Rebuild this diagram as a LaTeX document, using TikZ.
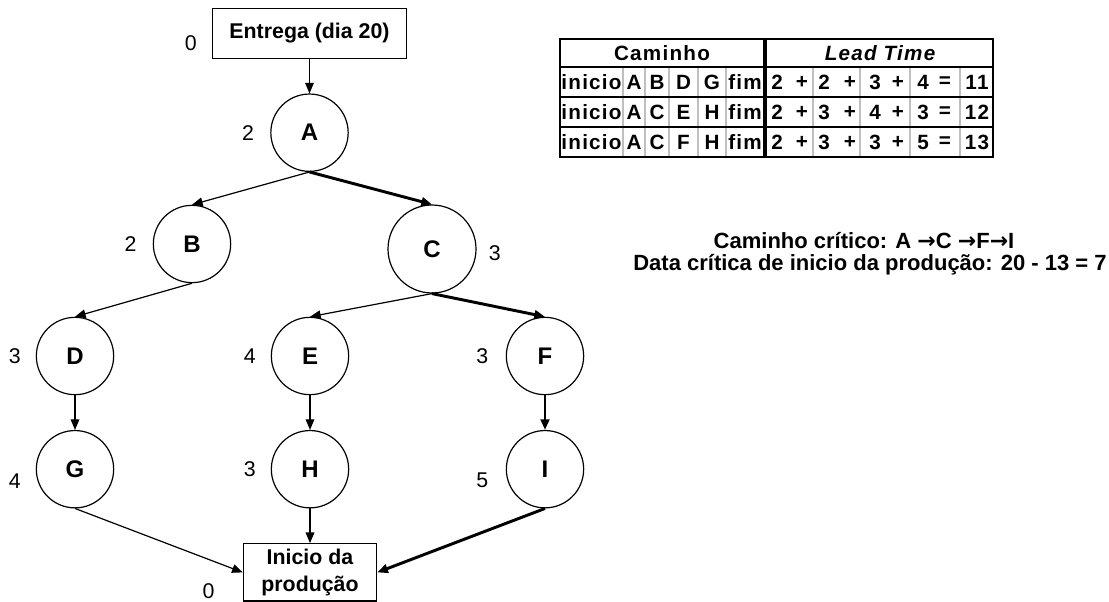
\documentclass[tikz,border=0pt]{standalone}
\usepackage{fontspec}
\setmainfont{Liberation Sans}
\newfontfamily\symfont{DejaVu Sans}
\newfontfamily\tabfont[LetterSpace=6.0]{Liberation Sans}
\usepackage{xcolor}
\usepackage{tikz}
\usetikzlibrary{arrows.meta,positioning}
\definecolor{gradecinza}{HTML}{BFBFBF}
\newcommand{\setinha}{{\symfont\bfseries →}}

\begin{document}
\begin{tikzpicture}[
    x=0.75pt, y=-0.75pt,
    node distance=26pt,
    etapa/.style={circle, draw, line width=0.9pt, minimum size=58pt, inner sep=0pt,
                  font=\fontsize{18}{21}\selectfont\bfseries},
    caixa/.style={rectangle, draw, line width=0.9pt, align=center, inner sep=2pt,
                  font=\fontsize{16}{20}\selectfont\bfseries},
    num/.style={inner sep=0pt, font=\fontsize{16}{19}\selectfont},
    seta/.style={-{Triangle[length=8pt,width=6.5pt]}, line width=0.9pt},
    critica/.style={seta, line width=2.2pt},
    celula/.style={inner sep=0pt, font=\tabfont\fontsize{15.5}{18}\selectfont\bfseries},
    grade/.style={draw=gradecinza, line width=1.2pt},
    nota/.style={inner sep=0pt, anchor=base, font=\fontsize{16.5}{20}\selectfont\bfseries},
]
    \useasboundingbox (0,0) rectangle (1109,602);

    % arvore de etapas
    \node[caixa, minimum width=146pt, minimum height=37pt] (ent) at (309.5,33.5) {Entrega (dia 20)};
    \node[etapa, below=of ent] (A) {A};
    \node[etapa] (B) at (192,244) {B};
    \node[etapa, minimum size=66pt] (C) at (432,249) {C};
    \node[etapa] (D) at (75,356) {D};
    \node[etapa] (E) at (310,356) {E};
    \node[etapa] (F) at (545,356) {F};
    \node[etapa, below=of D] (G) {G};
    \node[etapa, below=of E] (H) {H};
    \node[etapa, below=of F] (I) {I};
    \node[caixa, below=of H, minimum width=100pt, minimum height=43pt] (prod) {Inicio da\\produção};

    % tempos
    \node[num, left=11pt of ent, yshift=-7pt] (n0e) {0};
    \node[num, left=12pt of A] (nA) {2};
    \node[num, left=12pt of B] (nB) {2};
    \node[num, right=9pt of C, yshift=-3pt] (nC) {3};
    \node[num, left=11pt of D] (nD) {3};
    \node[num, left=11pt of E] (nE) {4};
    \node[num, left=13pt of F] (nF) {3};
    \node[num, left=11pt of G, yshift=-9pt] (nG) {4};
    \node[num, left=11pt of H] (nH) {3};
    \node[num, left=13pt of I, yshift=-8pt] (nI) {5};
    \node[num, left=21pt of prod, yshift=-14pt] (n0p) {0};

    \draw[seta] (ent) -- (A);
    \draw[seta] (A.south) -- (B.north);
    \draw[critica] (A.south) -- (C.north);
    \draw[seta] (B.south) -- (D.north);
    \draw[seta] (C.south) -- (E.north);
    \draw[critica] (C.south) -- (F.north);
    \draw[seta] (D) -- (G);
    \draw[seta] (E) -- (H);
    \draw[critica] (F) -- (I);
    \draw[seta] (G.south) -- (prod.west);
    \draw[seta] (H) -- (prod);
    \draw[critica] (I.south) -- (prod.east);

    % tabela de caminhos
    \foreach \xx in {623,645,669,698,726,813,860,910,960}
        \draw[grade] (\xx,67) -- (\xx,157);
    \draw[line width=1.6pt] (560,39) rectangle (993,157);
    \foreach \yy in {67,97,127}
        \draw[line width=1.5pt] (560,\yy) -- (993,\yy);
    \draw[line width=3.5pt] (765,39) -- (765,157);

    \node[celula] (cam) at (662,53) {Caminho};
    \node[celula, font=\tabfont\fontsize{15.5}{18}\selectfont\bfseries\itshape] (lt) at (880,53) {Lead Time};

    \foreach \xx/\txt [count=\k] in {591.5/inicio, 634/A, 657/B, 683.5/D, 712/G, 745/fim}
        \node[celula] (ra\k) at (\xx,82) {\txt};
    \foreach \xx/\txt [count=\k] in {777/2, 802/+, 824/2, 850/+, 875/3, 898/+, 923/4, 945/=, 977/11}
        \node[celula] (ta\k) at (\xx,82) {\txt};
    \foreach \xx/\txt [count=\k] in {591.5/inicio, 634/A, 657/C, 683.5/E, 712/H, 745/fim}
        \node[celula] (rb\k) at (\xx,112) {\txt};
    \foreach \xx/\txt [count=\k] in {777/2, 802/+, 824/3, 850/+, 875/4, 898/+, 923/3, 945/=, 977/12}
        \node[celula] (tb\k) at (\xx,112) {\txt};
    \foreach \xx/\txt [count=\k] in {591.5/inicio, 634/A, 657/C, 683.5/F, 712/H, 745/fim}
        \node[celula] (rc\k) at (\xx,142) {\txt};
    \foreach \xx/\txt [count=\k] in {777/2, 802/+, 824/3, 850/+, 875/3, 898/+, 923/5, 945/=, 977/13}
        \node[celula] (tc\k) at (\xx,142) {\txt};

    % caminho critico
    \node[nota] (cc) at (864,248) {Caminho crítico: A \setinha C \setinha F\setinha I};
    \node[nota] (dc) at (870,271) {Data crítica de inicio da produção: 20 - 13 = 7};
\end{tikzpicture}
\end{document}
